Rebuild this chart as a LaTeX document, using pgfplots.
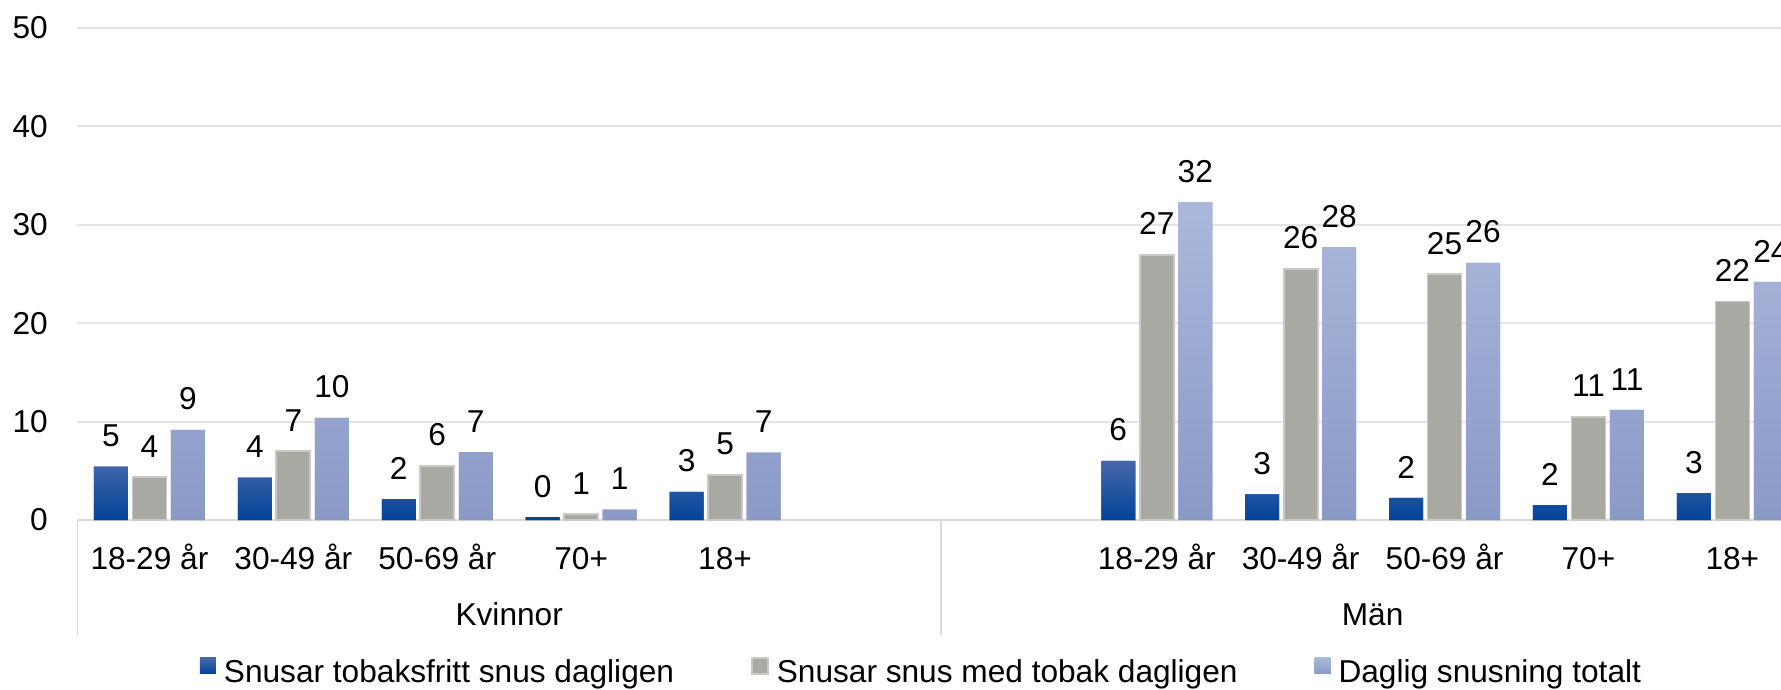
\documentclass[border=0pt]{standalone}
\usepackage{fontspec}
\setmainfont{Liberation Sans}
\usepackage{pgfplots}
\pgfplotsset{compat=1.18}
\usepackage{pgfplotstable}

\definecolor{bluetop}{HTML}{4767A9}
\definecolor{bluemid}{HTML}{0A4A9C}
\definecolor{bluebot}{HTML}{00449A}
\definecolor{graybar}{HTML}{A8A9A3}
\definecolor{grayedge}{HTML}{C9CAC5}
\definecolor{lighttop}{HTML}{AAB8DC}
\definecolor{lightbot}{HTML}{8A9AC6}
\definecolor{gridc}{HTML}{E4E4E4}
\definecolor{basec}{HTML}{D9D9D9}

\pgfplotstableread{
x  a    al  b     bl  c     cl
0  5.42 5   4.37  4   9.15  9
1  4.30 4   7.00  7   10.37 10
2  2.13 2   5.52  6   6.90  7
3  0.30 0   0.62  1   1.05  1
4  2.85 3   4.57  5   6.84  7
7  6.00 6   26.96 27  32.30 32
8  2.60 3   25.50 26  27.74 28
9  2.24 2   24.97 25  26.12 26
10 1.50 2   10.50 11  11.18 11
11 2.74 3   22.20 22  24.19 24
}\datatable

\begin{document}
\fontsize{9pt}{11pt}\selectfont
\begin{tikzpicture}[font=\fontsize{9pt}{11pt}\selectfont]
\path[use as bounding box] (0,0) rectangle (17.81cm,6.90cm);
\begin{axis}[
  at={(0.775cm,1.70cm)}, anchor=south west,
  scale only axis, width=17.035cm, height=4.92cm,
  xmin=-0.5, xmax=11.338, ymin=0, ymax=50,
  ybar=0.045cm, bar width=0.34cm,
  ytick={0,10,...,50},
  ymajorgrids, grid style={draw=gridc, line width=0.6pt},
  xtick={0,1,2,3,4,7,8,9,10,11},
  xticklabels={18-29 år,30-49 år,50-69 år,70+,18+,18-29 år,30-49 år,50-69 år,70+,18+},
  major tick length=0pt,
  xtick pos=bottom, ytick pos=left,
  axis line style={draw=none},
  xticklabel style={anchor=base, inner sep=0pt, yshift=-0.49cm},
  yticklabel style={anchor=east, inner sep=0pt, xshift=-0.29cm},
  /pgf/number format/assume math mode=true,
  extra x ticks={-0.5,5.5},
  extra x tick labels={},
  extra x tick style={major tick length=1.15cm, tick align=outside,
     tick style={draw=basec, line width=0.5pt}},
  extra y ticks={0}, extra y tick labels={},
  extra y tick style={grid style={draw=basec, line width=0.8pt}},
  nodes near coords, point meta=explicit symbolic,
  every node near coord/.append style={inner sep=0pt, yshift=0.19cm, text=black},
  legend columns=3,
  legend style={at={(0.0719,-0.3409)}, anchor=south west, draw=none, fill=none,
     inner sep=0pt, outer sep=0pt, nodes={inner sep=0pt},
     /tikz/every odd column/.style={column sep=0.08cm},
     /tikz/every even column/.style={column sep=0.77cm}},
  legend image code/.code={\path[#1] (0cm,0cm) rectangle (0.16cm,0.16cm);},
]
\addplot[draw=none, fill=bluebot, top color=bluetop, middle color=bluemid, bottom color=bluebot]
  table[x=x, y=a, meta=al] {\datatable};
\addlegendentry{Snusar tobaksfritt snus dagligen}
\addplot[fill=graybar, draw=grayedge, line width=0.5pt]
  table[x=x, y=b, meta=bl] {\datatable};
\addlegendentry{Snusar snus med tobak dagligen}
\addplot[draw=none, fill=lightbot, top color=lighttop, bottom color=lightbot]
  table[x=x, y=c, meta=cl] {\datatable};
\addlegendentry{Daglig snusning totalt}
\coordinate (gK) at (axis cs:2.5,0);
\coordinate (gM) at (axis cs:8.5,0);
\end{axis}
\node[anchor=base, inner sep=0pt] at ([yshift=-1.06cm]gK) {Kvinnor};
\node[anchor=base, inner sep=0pt] at ([yshift=-1.06cm]gM) {Män};
\end{tikzpicture}
\end{document}
